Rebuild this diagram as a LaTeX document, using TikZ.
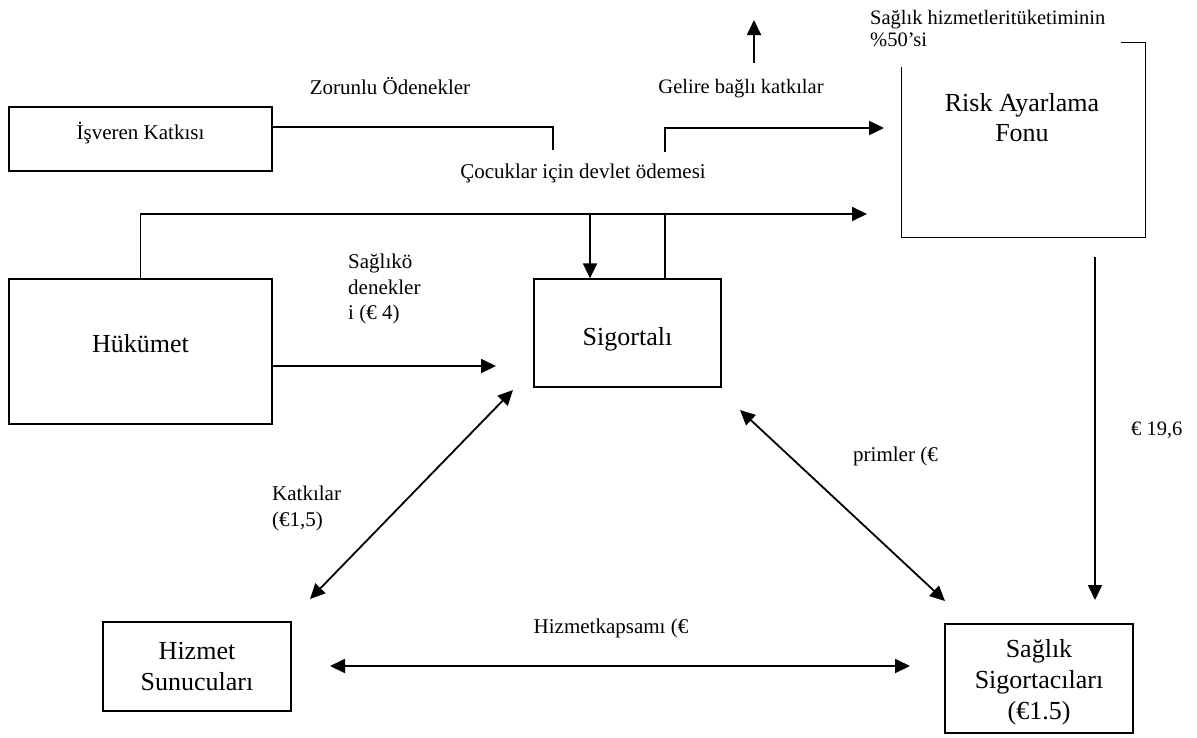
\documentclass[tikz,border=0pt]{standalone}
\usepackage{fontspec}
\setmainfont{Liberation Serif}
\usetikzlibrary{arrows.meta,calc}
\begin{document}
\begin{tikzpicture}[x=1pt,y=-1pt,
  box/.style={draw,line width=1.3pt,inner sep=0pt,align=center,
              font=\fontsize{26}{31}\selectfont},
  frame/.style={inner sep=0pt},
  lbl/.style={inner sep=0pt,align=left,font=\fontsize{20.5}{24}\selectfont},
  biglbl/.style={inner sep=0pt,align=left,font=\fontsize{21}{25.5}\selectfont},
  tip/.tip={Triangle[length=15pt,width=14pt]},
  link/.style={line width=1.8pt},
  flow/.style={line width=1.8pt,-tip},
  both/.style={line width=1.8pt,tip-tip}]
\useasboundingbox (0,0) rectangle (1197,737);

% boxes
\node[box,minimum width=263pt,minimum height=64pt,font=\fontsize{21}{25}\selectfont,
      text depth=16pt] (isv) at (140.5,139) {İşveren Katkısı};
\node[box,minimum width=263pt,minimum height=145pt,text depth=17pt] (huk) at (140.5,351.5) {Hükümet};
\node[box,minimum width=187pt,minimum height=108pt,text height=31pt] (sig) at (627.5,333) {Sigortalı};
\node[box,minimum width=188pt,minimum height=89pt] (hiz) at (197,666.5) {Hizmet\\Sunucuları};
\node[box,minimum width=188pt,minimum height=109pt] (sag) at (1039,678.5)
  {\rule{0pt}{26pt}Sağlık\\Sigortacıları\\(€1.5)};

% risk adjustment fund: frame open at the top left
\node[frame,minimum width=243pt,minimum height=194pt] (riskfrm) at (1023.5,140) {};
\draw[line width=1.3pt] ([xshift=-24pt]riskfrm.north east) -- (riskfrm.north east)
  -- (riskfrm.south east) -- (riskfrm.south west) -- ([yshift=-24pt]riskfrm.north west);
\node[inner sep=0pt,align=center,font=\fontsize{26}{30}\selectfont,anchor=north]
  (risk) at (1022,93) {Risk Ayarlama\\Fonu};

% text labels
\node[biglbl,anchor=base] (zor) at (390,94) {Zorunlu Ödenekler};
\node[lbl,anchor=base] (gel) at (741,93) {Gelire bağlı katkılar};
\node[biglbl,anchor=base] (coc) at (583,178) {Çocuklar için devlet ödemesi};
\node[lbl,anchor=north west,font=\fontsize{20.5}{22}\selectfont]
  (sht) at (870,10) {Sağlık hizmetleritüketiminin\\\%50’si};
\node[biglbl,anchor=north west] (sod) at (348,254) {Sağlıkö\\denekler\\i (€ 4)};
\node[biglbl,anchor=north west] (kat) at (272,486) {Katkılar\\(€1,5)};
\node[biglbl,anchor=base west] (pri) at (853,461) {primler (€};
\node[lbl,anchor=base west] (ras) at (1131,435) {€ 19,6};
\node[biglbl,anchor=base] (hkp) at (611,633) {Hizmetkapsamı (€};

% employer contribution bracket
\coordinate (tickend) at (553,150);
\draw[link] ($(isv.north east)+(0,21)$) -| (tickend);

% income related contributions to the fund
\coordinate (brkstart) at (665,152);
\coordinate (brkend) at (884,128);
\draw[flow,line width=2.3pt] (brkstart) |- (brkend);

\coordinate (upbase) at (754,63);
\coordinate (uptip) at (754,20);
\draw[flow] (upbase) -- (uptip);

% government lines
\coordinate (topend) at (867,214);
\draw[flow] (huk.north) |- (topend);
\coordinate (drop) at (590,214);
\draw[flow] (drop) -- (drop |- sig.north);
\coordinate (rise) at (665,214);
\draw[link] (rise |- sig.north) -- (rise);
\coordinate (hukin) at (496,366);
\draw[flow] (huk.east |- hukin) -- (hukin);

% flows between the parties
\coordinate (k1) at (513,390);
\coordinate (k2) at (310,599);
\draw[both] (k2) -- (k1);
\coordinate (p1) at (740,410);
\coordinate (p2) at (945,601);
\draw[both] (p1) -- (p2);
\coordinate (v1) at (1095,257);
\coordinate (v2) at (1095,600);
\draw[flow] (v1) -- (v2);
\coordinate (h1) at (330,666);
\coordinate (h2) at (910,666);
\draw[both] (h1) -- (h2);
\end{tikzpicture}
\end{document}
